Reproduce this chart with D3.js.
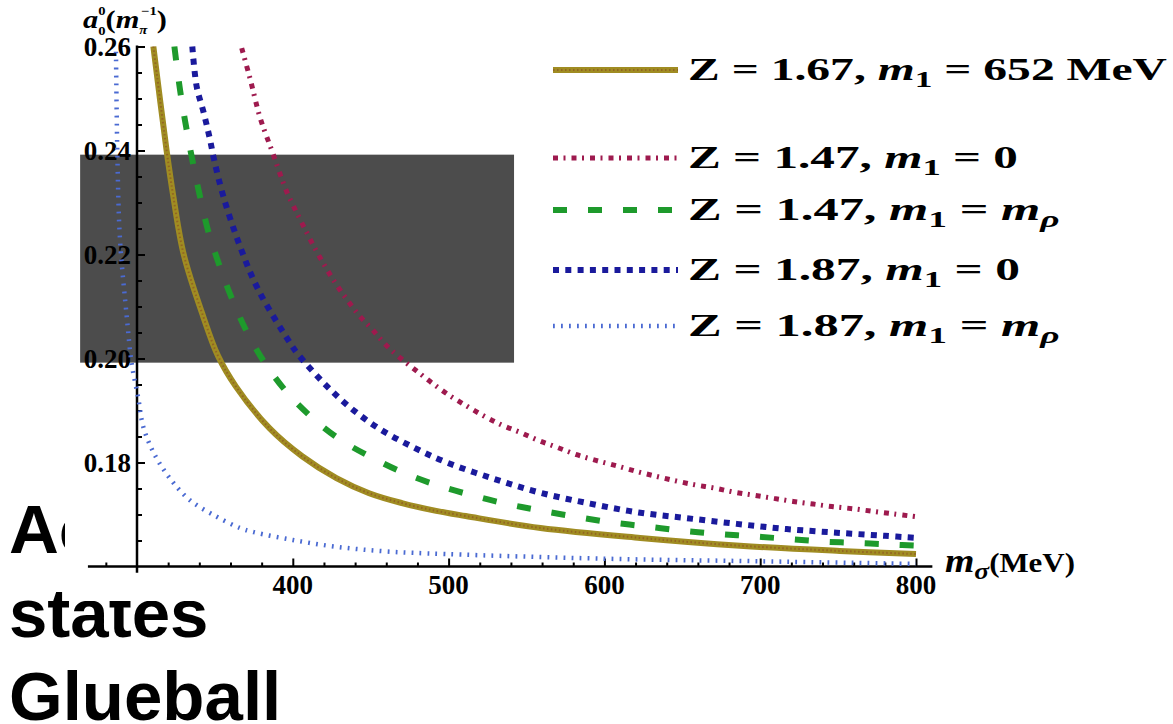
<!DOCTYPE html>
<html><head><meta charset="utf-8">
<script src="https://cdn.jsdelivr.net/npm/d3@7"></script>
<style>body{margin:0;background:#fff;overflow:hidden} svg{display:block}</style>
</head><body>
<svg id="c" width="1173" height="724"></svg>
<script>
// ---- data ----
const goldM = [310.5, 319, 323.3, 330, 342.6, 352, 363.5, 385, 406, 428, 449, 470, 492, 511, 559, 623, 687, 751, 800];
const goldV = [0.260, 0.240, 0.2312, 0.220, 0.2080, 0.2005, 0.1946, 0.1866, 0.1812, 0.1770, 0.1741, 0.1722, 0.1707, 0.1697, 0.1674, 0.1655, 0.1640, 0.1630, 0.1624];

const crimM = [367.2, 372.5, 378.9, 383.2, 387.5, 391.8, 396.5, 402.1, 407.8, 413.8, 420.2, 427.1, 434.6, 442.5, 451.3, 459.8, 469.4, 479.5, 489.3, 500, 510.3, 522.3, 534.1, 545.8, 558, 569.8, 582.2, 594.6, 607.4, 620.3, 632.5, 645.3, 658.2, 670.4, 683.2, 696, 708.9, 721.2, 734.1, 746.9, 759.7, 772.6, 785.9, 799.4];
const crimV = [0.2597, 0.2539, 0.2464, 0.2427, 0.2392, 0.2355, 0.2318, 0.2283, 0.2249, 0.2214, 0.2180, 0.2146, 0.2114, 0.2083, 0.2055, 0.2026, 0.2000, 0.1976, 0.1953, 0.1930, 0.1911, 0.1890, 0.1872, 0.1858, 0.1842, 0.1829, 0.1815, 0.1804, 0.1794, 0.1783, 0.1774, 0.1765, 0.1757, 0.1751, 0.1743, 0.1737, 0.1731, 0.1725, 0.1720, 0.1715, 0.1711, 0.1706, 0.1701, 0.1696];

const greenM = [324, 327.6, 331.5, 335.7, 340.4, 345.8, 352.8, 360.8, 370.4, 381.5, 395.6, 411.7, 429.9, 449.1, 470.5, 491.9, 513.7, 536.2, 558.2, 581.1, 604, 626.7, 649.6, 672, 695.2, 718.1, 740.5, 763.6, 785.9, 800];
const greenV = [0.2600, 0.2517, 0.2446, 0.2379, 0.2312, 0.2244, 0.2180, 0.2116, 0.2052, 0.1994, 0.1937, 0.1888, 0.1845, 0.1812, 0.1781, 0.1757, 0.1738, 0.1721, 0.1708, 0.1696, 0.1685, 0.1677, 0.1669, 0.1663, 0.1658, 0.1653, 0.1648, 0.1645, 0.1642, 0.1640];

const blueM = [335.5, 338.3, 342.6, 346.5, 349.6, 355.4, 365.7, 377.9, 398.2, 403.1, 419.2, 436.3, 455.5, 476.9, 498, 528.7, 558.7, 590.8, 621.8, 652.8, 684.9, 717, 749.1, 780.1, 800];
const blueV = [0.2600, 0.2523, 0.2475, 0.2426, 0.2381, 0.2312, 0.2219, 0.2132, 0.2030, 0.2009, 0.1955, 0.1907, 0.1865, 0.1830, 0.1801, 0.1769, 0.1742, 0.1721, 0.1704, 0.1693, 0.1682, 0.1672, 0.1665, 0.1659, 0.1655];

const lightM = [286.5, 287.5, 289.1, 293.4, 296.6, 300.8, 304, 310.8, 321, 333.8, 351, 366.1, 375, 400, 427.7, 459.8, 497.7, 600, 700, 800];
const lightV = [0.2590, 0.2376, 0.2228, 0.2081, 0.1990, 0.1924, 0.1869, 0.1818, 0.1770, 0.1728, 0.1696, 0.1674, 0.1666, 0.1651, 0.1638, 0.1629, 0.1624, 0.1615, 0.1610, 0.1605];

const bandM = [263.5, 542];
const bandV = [0.1992, 0.2392];

const xMajor = [400, 500, 600, 700, 800];
const xMinor = [280, 320, 340, 360, 380, 420, 440, 460, 480, 520, 540, 560, 580, 620, 640, 660, 680, 720, 740, 760, 780];
const yMajor = [0.18, 0.20, 0.22, 0.24, 0.26];
const yMinor = [0.165, 0.17, 0.175, 0.185, 0.19, 0.195, 0.205, 0.21, 0.215, 0.225, 0.23, 0.235, 0.245, 0.25, 0.255];

const slideLines = ["Ac", "states", "Glueball"];

// ---- drawing ----
const svg = d3.select("#c");
const serif = "'Liberation Serif', 'Times New Roman', serif";

function fitWidth(sel, x0, target) {
  const w = sel.node().getBBox().width;
  const k = target / w;
  sel.attr("transform", `translate(${x0},0) scale(${k},1) translate(${-x0},0)`);
}

// background slide text (partly covered by the chart image)
svg.append("g").selectAll("text").data(slideLines).join("text")
  .attr("x", 9).attr("y", (d, i) => 553 + i * 83.5)
  .attr("font-family", "'Liberation Sans', Arial, sans-serif")
  .attr("font-weight", "bold").attr("font-size", 69).attr("fill", "#000")
  .text(d => d);

// chart image white background
svg.append("rect").attr("x", 65).attr("y", 0).attr("width", 1108).attr("height", 601).attr("fill", "#fff");

const x = d3.scaleLinear().domain([300, 800]).range([137, 916]);
const y = d3.scaleLinear().domain([0.16, 0.26]).range([566.5, 46.5]);

// grey band
svg.append("rect")
  .attr("x", x(bandM[0])).attr("y", y(bandV[1]))
  .attr("width", x(bandM[1]) - x(bandM[0])).attr("height", y(bandV[0]) - y(bandV[1]))
  .attr("fill", "#4c4c4c");

// axes
const ax = svg.append("g").attr("stroke", "#000");
ax.append("line").attr("x1", x(268.5)).attr("x2", x(810.5)).attr("y1", y(0.16)).attr("y2", y(0.16)).attr("stroke-width", 2.5);
ax.append("line").attr("x1", x(300)).attr("x2", x(300)).attr("y1", y(0.2602)).attr("y2", y(0.1588)).attr("stroke-width", 2.5);

function tickAxis(g, axis) { g.call(axis); g.select(".domain").remove(); g.selectAll(".tick line").attr("stroke", "#000").attr("stroke-width", 2); }
svg.append("g").attr("transform", `translate(0,${y(0.16)})`).call(g => tickAxis(g, d3.axisTop(x).tickValues(xMinor).tickSize(4).tickFormat("")));
svg.append("g").attr("transform", `translate(0,${y(0.16)})`).call(g => tickAxis(g, d3.axisTop(x).tickValues(xMajor).tickSize(8).tickFormat("")));
svg.append("g").attr("transform", `translate(${x(300)},0)`).call(g => tickAxis(g, d3.axisRight(y).tickValues(yMinor).tickSize(5).tickFormat("")));
svg.append("g").attr("transform", `translate(${x(300)},0)`).call(g => tickAxis(g, d3.axisRight(y).tickValues(yMajor).tickSize(8).tickFormat("")));

// tick labels
svg.append("g").selectAll("text").data(xMajor).join("text")
  .attr("x", d => x(d)).attr("y", 594).attr("text-anchor", "middle")
  .attr("font-family", serif).attr("font-weight", "bold").attr("font-size", 27).text(d => d);
svg.append("g").selectAll("text").data(yMajor).join("text")
  .attr("x", 131).attr("y", d => y(d)).attr("dy", "0.34em").attr("text-anchor", "end")
  .attr("font-family", serif).attr("font-weight", "bold").attr("font-size", 27).text(d => d.toFixed(2));

// curves
const line = d3.line().x(d => x(d[0])).y(d => y(d[1])).curve(d3.curveCatmullRom.alpha(0.5));
const zip = (a, b) => a.map((v, i) => [v, b[i]]);
const series = [
  {name: "light", data: zip(lightM, lightV), color: "#4a6ad2", w: 4.5, dash: "1.8 6.2"},
  {name: "crim", data: zip(crimM, crimV), color: "#9e1a4e", w: 5, dash: "5 5.5 2 6"},
  {name: "blue", data: zip(blueM, blueV), color: "#1a1a9c", w: 6, dash: "6 6.3"},
  {name: "green", data: zip(greenM, greenV), color: "#1e9a2c", w: 6, dash: "14 21"},
  {name: "gold", data: zip(goldM, goldV), color: "#a08c22", w: 6, dash: null}
];
const cg = svg.append("g").attr("fill", "none");
series.forEach(s => {
  cg.append("path").attr("d", line(s.data)).attr("stroke", s.color).attr("stroke-width", s.w)
    .attr("stroke-dasharray", s.dash);
  if (s.name === "gold") {
    cg.append("path").attr("d", line(s.data)).attr("stroke", "#8a4a24").attr("stroke-width", 2)
      .attr("stroke-dasharray", "1.5 2.5").attr("opacity", 0.6);
  }
});

// legend
const legend = [
  {s: "gold", y: 70, w: 480, parts: [["Z = 1.67, "], ["m", "i"], ["1", "sub"], [" = 652 MeV"]]},
  {s: "crim", y: 158, w: 330, parts: [["Z = 1.47, "], ["m", "i"], ["1", "sub"], [" = 0"]]},
  {s: "green", y: 210, w: 372, parts: [["Z = 1.47, "], ["m", "i"], ["1", "sub"], [" = "], ["m", "i"], ["ρ", "isub"]]},
  {s: "blue", y: 270, w: 332, parts: [["Z = 1.87, "], ["m", "i"], ["1", "sub"], [" = 0"]]},
  {s: "light", y: 326, w: 372, parts: [["Z = 1.87, "], ["m", "i"], ["1", "sub"], [" = "], ["m", "i"], ["ρ", "isub"]]}
];
const lg = svg.append("g");
legend.forEach(l => {
  const s = series.find(d => d.name === l.s);
  lg.append("line").attr("x1", 553).attr("x2", 678).attr("y1", l.y).attr("y2", l.y)
    .attr("stroke", s.color).attr("stroke-width", s.w).attr("stroke-dasharray", s.dash);
  if (l.s === "gold") lg.append("line").attr("x1", 553).attr("x2", 678).attr("y1", l.y).attr("y2", l.y)
    .attr("stroke", "#8a4a24").attr("stroke-width", 2).attr("stroke-dasharray", "1.5 2.5").attr("opacity", 0.6);
  const t = lg.append("text").attr("x", 688).attr("y", l.y + 10)
    .attr("font-family", serif).attr("font-weight", "bold").attr("font-size", 31);
  let shifted = false;
  l.parts.forEach(p => {
    const ts = t.append("tspan").text(p[0]).attr("xml:space", "preserve");
    if (p[1] === "i") ts.attr("font-style", "italic");
    if (p[1] === "sub" || p[1] === "isub") { ts.attr("dy", 7).attr("font-size", 23); shifted = true; if (p[1] === "isub") ts.attr("font-style", "italic"); }
    else if (shifted) { ts.attr("dy", -7); shifted = false; }
  });
  fitWidth(t, 688, l.w);
});

// axis titles
const yt = svg.append("text").attr("x", 83).attr("y", 28).attr("font-family", serif).attr("font-weight", "bold").attr("font-size", 25);
yt.append("tspan").text("a").attr("font-style", "italic");
yt.append("tspan").text("0").attr("font-size", 12).attr("dy", -13);
yt.append("tspan").text("0").attr("font-size", 12).attr("dy", 20).attr("dx", -6);
yt.append("tspan").text("(").attr("dy", -7);
yt.append("tspan").text("m").attr("font-style", "italic");
yt.append("tspan").text("π").attr("font-style", "italic").attr("font-size", 12).attr("dy", 6);
yt.append("tspan").text("−1").attr("font-size", 12).attr("dy", -19).attr("dx", -5);
yt.append("tspan").text(")").attr("dy", 13);
fitWidth(yt, 83, 84);

const xt = svg.append("text").attr("x", 945).attr("y", 572).attr("font-family", serif).attr("font-weight", "bold").attr("font-size", 27);
xt.append("tspan").text("m").attr("font-style", "italic").attr("font-size", 33);
xt.append("tspan").text("σ").attr("font-style", "italic").attr("font-size", 24).attr("dy", 7);
xt.append("tspan").text("(MeV)").attr("font-size", 27).attr("dy", -7);
fitWidth(xt, 945, 130);
</script>
</body></html>
